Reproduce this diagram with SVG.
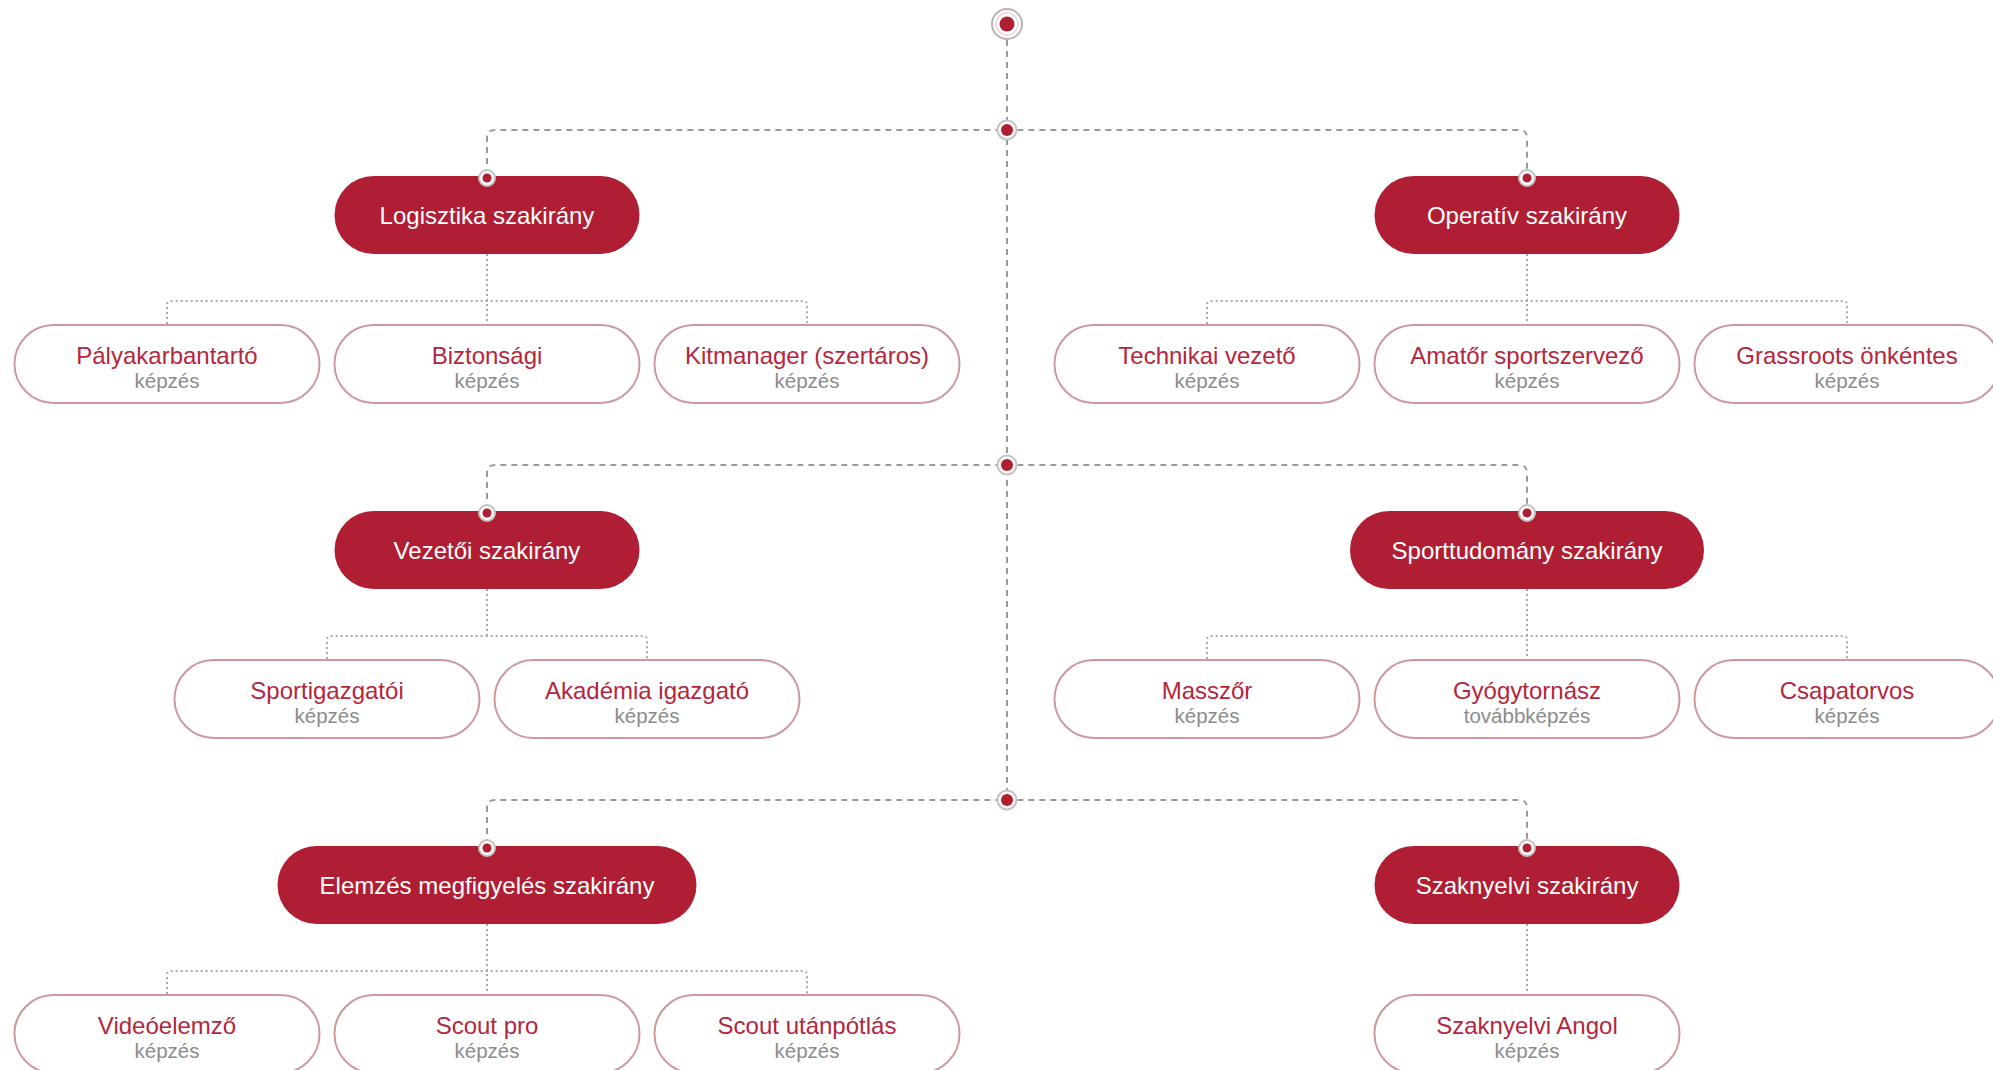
<svg xmlns="http://www.w3.org/2000/svg" width="1993" height="1070" viewBox="0 0 1993 1070">
<style>
.main{fill:#b01e33}
.mt{fill:#fff;font-family:"Liberation Sans",Arial,sans-serif;font-size:24px;text-anchor:middle}
.leaf{fill:#fff;stroke:#cf98a1;stroke-width:2}
.lt{fill:#b4263c;font-family:"Liberation Sans",Arial,sans-serif;font-size:24px;text-anchor:middle}
.ls{fill:#8c8c8c;font-family:"Liberation Sans",Arial,sans-serif;font-size:20.5px;text-anchor:middle}
.dash{fill:none;stroke:#9a9a9a;stroke-width:2;stroke-dasharray:6 5}
.dot{fill:none;stroke:#a8a8a8;stroke-width:2;stroke-dasharray:2 3}
.ring{fill:#fff;stroke:#c9c0c2;stroke-width:2}
.red{fill:#b01e33}
</style>
<defs>
<g id="pin"><circle r="8" class="ring"/><circle r="4.5" class="red"/></g>
<g id="jn"><circle r="9.5" class="ring"/><circle r="6" class="red"/></g>
</defs>
<g id="connectors">
<path class="dash" d="M1007 40V800"/>
<path class="dash" d="M487 175V138Q487 130 495 130H1519Q1527 130 1527 138V175"/>
<path class="dash" d="M487 510V473Q487 465 495 465H1519Q1527 465 1527 473V510"/>
<path class="dash" d="M487 845V808Q487 800 495 800H1519Q1527 800 1527 808V845"/>
<path class="dot" d="M167 324V305Q167 301 171 301H803Q807 301 807 305V324M487 254V324"/>
<path class="dot" d="M1207 324V305Q1207 301 1211 301H1843Q1847 301 1847 305V324M1527 254V324"/>
<path class="dot" d="M327 659V640Q327 636 331 636H643Q647 636 647 640V659M487 589V636"/>
<path class="dot" d="M1207 659V640Q1207 636 1211 636H1843Q1847 636 1847 640V659M1527 589V659"/>
<path class="dot" d="M167 994V975Q167 971 171 971H803Q807 971 807 975V994M487 924V994"/>
<path class="dot" d="M1527 924V994"/>
<use href="#jn" x="1007" y="130"/>
<use href="#jn" x="1007" y="465"/>
<use href="#jn" x="1007" y="800"/>
</g>
<g id="start"><circle cx="1007" cy="24" r="15" fill="#fff" stroke="#b5b5b5" stroke-width="2"/><circle cx="1007" cy="24" r="11" fill="none" stroke="#f0d2d6" stroke-width="1.5"/><circle cx="1007" cy="24" r="7.5" class="red"/></g>

<g id="logisztika"><rect class="main" x="334.5" y="176" width="305" height="78" rx="39"/><text class="mt" x="487" y="223.5">Logisztika szakirány</text><use href="#pin" x="487" y="178"/></g>
<g id="operativ"><rect class="main" x="1374.5" y="176" width="305" height="78" rx="39"/><text class="mt" x="1527" y="223.5">Operatív szakirány</text><use href="#pin" x="1527" y="178"/></g>
<g id="vezetoi"><rect class="main" x="334.5" y="511" width="305" height="78" rx="39"/><text class="mt" x="487" y="558.5">Vezetői szakirány</text><use href="#pin" x="487" y="513"/></g>
<g id="sporttudomany"><rect class="main" x="1350" y="511" width="354" height="78" rx="39"/><text class="mt" x="1527" y="558.5">Sporttudomány szakirány</text><use href="#pin" x="1527" y="513"/></g>
<g id="elemzes"><rect class="main" x="277.5" y="846" width="419" height="78" rx="39"/><text class="mt" x="487" y="893.5">Elemzés megfigyelés szakirány</text><use href="#pin" x="487" y="848"/></g>
<g id="szaknyelvi"><rect class="main" x="1374.5" y="846" width="305" height="78" rx="39"/><text class="mt" x="1527" y="893.5">Szaknyelvi szakirány</text><use href="#pin" x="1527" y="848"/></g>

<g id="palyakarbantarto"><rect class="leaf" x="14.5" y="325" width="305" height="78" rx="39"/><text class="lt" x="167" y="364">Pályakarbantartó</text><text class="ls" x="167" y="388">képzés</text></g>
<g id="biztonsagi"><rect class="leaf" x="334.5" y="325" width="305" height="78" rx="39"/><text class="lt" x="487" y="364">Biztonsági</text><text class="ls" x="487" y="388">képzés</text></g>
<g id="kitmanager"><rect class="leaf" x="654.5" y="325" width="305" height="78" rx="39"/><text class="lt" x="807" y="364">Kitmanager (szertáros)</text><text class="ls" x="807" y="388">képzés</text></g>
<g id="technikai"><rect class="leaf" x="1054.5" y="325" width="305" height="78" rx="39"/><text class="lt" x="1207" y="364">Technikai vezető</text><text class="ls" x="1207" y="388">képzés</text></g>
<g id="amator"><rect class="leaf" x="1374.5" y="325" width="305" height="78" rx="39"/><text class="lt" x="1527" y="364">Amatőr sportszervező</text><text class="ls" x="1527" y="388">képzés</text></g>
<g id="grassroots"><rect class="leaf" x="1694.5" y="325" width="305" height="78" rx="39"/><text class="lt" x="1847" y="364">Grassroots önkéntes</text><text class="ls" x="1847" y="388">képzés</text></g>

<g id="sportigazgatoi"><rect class="leaf" x="174.5" y="660" width="305" height="78" rx="39"/><text class="lt" x="327" y="699">Sportigazgatói</text><text class="ls" x="327" y="723">képzés</text></g>
<g id="akademia"><rect class="leaf" x="494.5" y="660" width="305" height="78" rx="39"/><text class="lt" x="647" y="699">Akadémia igazgató</text><text class="ls" x="647" y="723">képzés</text></g>
<g id="masszor"><rect class="leaf" x="1054.5" y="660" width="305" height="78" rx="39"/><text class="lt" x="1207" y="699">Masszőr</text><text class="ls" x="1207" y="723">képzés</text></g>
<g id="gyogytornasz"><rect class="leaf" x="1374.5" y="660" width="305" height="78" rx="39"/><text class="lt" x="1527" y="699">Gyógytornász</text><text class="ls" x="1527" y="723">továbbképzés</text></g>
<g id="csapatorvos"><rect class="leaf" x="1694.5" y="660" width="305" height="78" rx="39"/><text class="lt" x="1847" y="699">Csapatorvos</text><text class="ls" x="1847" y="723">képzés</text></g>

<g id="videoelemzo"><rect class="leaf" x="14.5" y="995" width="305" height="78" rx="39"/><text class="lt" x="167" y="1034">Videóelemző</text><text class="ls" x="167" y="1058">képzés</text></g>
<g id="scoutpro"><rect class="leaf" x="334.5" y="995" width="305" height="78" rx="39"/><text class="lt" x="487" y="1034">Scout pro</text><text class="ls" x="487" y="1058">képzés</text></g>
<g id="scoututanpotlas"><rect class="leaf" x="654.5" y="995" width="305" height="78" rx="39"/><text class="lt" x="807" y="1034">Scout utánpótlás</text><text class="ls" x="807" y="1058">képzés</text></g>
<g id="szaknyelviangol"><rect class="leaf" x="1374.5" y="995" width="305" height="78" rx="39"/><text class="lt" x="1527" y="1034">Szaknyelvi Angol</text><text class="ls" x="1527" y="1058">képzés</text></g>
</svg>
